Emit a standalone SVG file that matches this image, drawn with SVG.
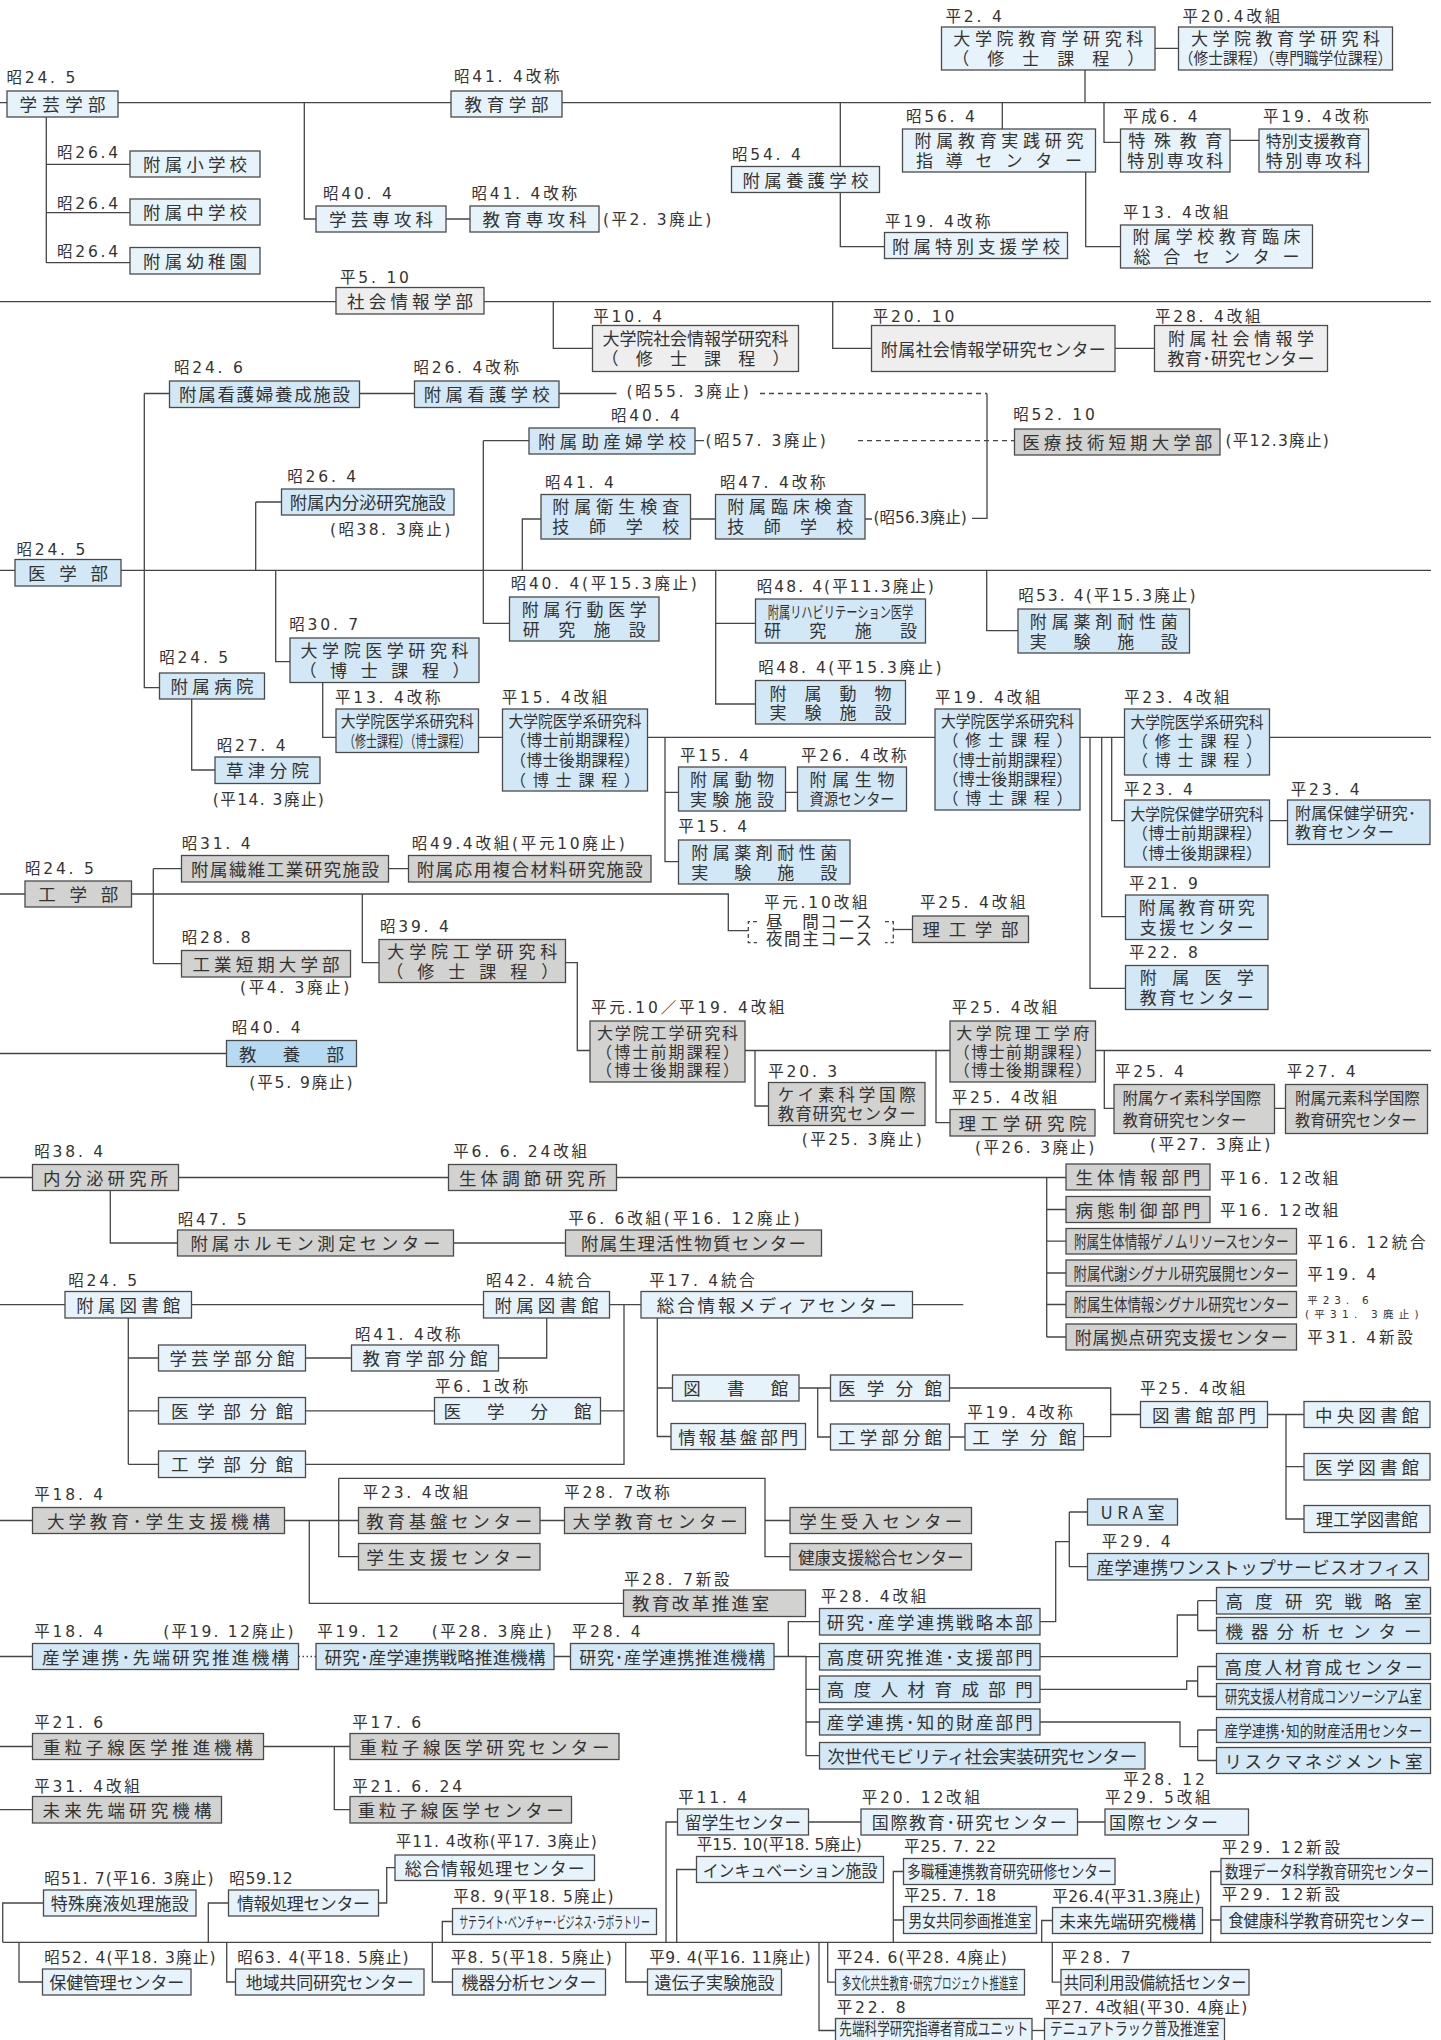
<svg xmlns="http://www.w3.org/2000/svg" width="1441" height="2040" viewBox="0 0 1441 2040">
<style>
.ln{fill:none;stroke:#454545;stroke-width:1.3}
.dsh{stroke-dasharray:5 4}
.dsh2{stroke-dasharray:4 3}
.dot{stroke-dasharray:1.5 2.5}
rect{stroke:#4a4a4a;stroke-width:1.3}
.b1{fill:#e7f3fb}
.b2{fill:#d2e8f6}
.b3{fill:#b5daf1}
.g1{fill:#d2d2d0}
.g2{fill:#eeeeee}
text{font-family:"Noto Sans CJK JP",sans-serif;fill:#333}
.t{font-size:17.5px;text-anchor:middle}
.l{text-anchor:start}
.f17{font-size:17px}
.f165{font-size:16.5px}
.f16{font-size:16px}
.f155{font-size:15.5px}
.lb{font-family:"DejaVu Sans","Noto Sans CJK JP",sans-serif;font-size:15.5px;letter-spacing:2.8px}
.lbs{font-family:"DejaVu Sans","Noto Sans CJK JP",sans-serif;font-size:10.5px;letter-spacing:1.5px}
</style>

<!-- connectors -->
<g id="connectors" class="ln">
<path d="M0 102.7H7M118 102.7H451M562 102.7H1431"/>
<path d="M46.3 117V262.7M46.3 164.3H130M46.3 212.7H130M46.3 262.7H130"/>
<path d="M304.3 102.7V219H316M446 219H470"/>
<path d="M840.3 102.7V166.5M840.3 192.5V246.7H884.5"/>
<path d="M1085 70V102.7M1155 48.3H1178.5M1002.3 102.7V129M1085.7 172V246.7H1120.5M1104 102.7V142.3H1120.5M1230 140.3H1259"/>
<path d="M0 301.7H336M484 301.7H1431M553.3 301.7V348.3H592.5M832.7 301.7V348.3H871.5M1115 348.3H1154.5"/>
<path d="M0 570.3H15M121 570.3H1431"/>
<path d="M144.3 393.5V687.7H159.5M144.3 393.5H169.5M359.5 393.5H414.5M559 393.5H616.5"/>
<path d="M972 518.3H987V393.5"/>
<path class="dsh" d="M760 393.5H987M858 440.7H1014.5"/>
<path d="M695 440.7H704M865 519H872"/>
<path d="M483.3 440.7H529M483.3 440.7V623.3H509.5"/>
<path d="M255.7 502H281.5M255.7 502V570.3"/>
<path d="M522.3 570.3V519H541M690.5 519H715.5"/>
<path d="M715.7 570.3V704H755.5M715.7 623.3H755.5"/>
<path d="M986.7 570.3V630.7H1018"/>
<path d="M191.7 699V770H215"/>
<path d="M275.7 570.3V661.7H290"/>
<path d="M322.7 682.5V737.3H336M478.5 737.3H502.5M647.5 737.3H935"/>
<path d="M665 737.3V861.7H678.5M665 792.3H678.5M785.5 792.3H797.5"/>
<path d="M1080 737.3H1124.5M1269.5 737.3H1431M1111.7 737.3V820.7H1124.5M1101.7 737.3V916.7H1125.5M1090 737.3V988.3H1125.5M1269.5 820.7H1287.5"/>
<path d="M0 894H25M131.5 894H728.3V930.7H748.3"/>
<path d="M153.3 868.7V963.7M153.3 868.7H181.5M153.3 963.7H181.5M388.5 868.7H408.5"/>
<path d="M362.3 894V962.7H379"/>
<path class="dsh2" d="M757 921.7H748.3V942.7H757M885 921.7H893.3V942.7H885"/>
<path d="M893.3 929.5H912.5"/>
<path d="M565.5 962.7H577.3V1050.5H590M745 1050.5H950M755 1050.5V1106H768.5M936 1050.5V1122.7H950"/>
<path d="M1095.5 1050.5H1431M1104.3 1050.5V1108.3H1114M1274.5 1108.3H1285.5"/>
<path d="M0 1053.5H226.5"/>
<path d="M0 1177.5H32.5M178.5 1177.5H448.5M616.5 1177.5H1066"/>
<path d="M1046.7 1177.5V1337M1046.7 1209.5H1066M1046.7 1241.2H1066M1046.7 1273H1066M1046.7 1304.5H1066M1046.7 1337H1066"/>
<path d="M110.3 1190.5V1243H177.5M453.5 1243H565.5"/>
<path d="M0 1304.7H65M191.5 1304.7H483.5M609.5 1304.7H641M912.5 1304.7H963.3"/>
<path d="M128.3 1318V1464.3M128.3 1358H158.5M128.3 1410.8H158.5M128.3 1464.3H158.5"/>
<path d="M305.5 1358H351.5M546.7 1318V1358H498.5"/>
<path d="M305.5 1410.8H434.5M600.5 1410.8H624M624 1304.7V1464.3H305.5"/>
<path d="M657.3 1318V1436.5H671M657.3 1388H672.5"/>
<path d="M799 1388H830.5M817.7 1388V1437H830.5"/>
<path d="M949.5 1388H1110.7V1436.7H1083.5M949.5 1437H965M1110.7 1414.5H1140.5"/>
<path d="M1267.5 1414.5H1304M1286 1414.5V1519H1304M1286 1466.7H1304"/>
<path d="M0 1520.5H32.5M284.5 1520.5H358.5M540 1520.5H564.5"/>
<path d="M338.7 1478.3V1556.7H358.5M338.7 1478.3H765V1556.7H790M765 1520.5H790"/>
<path d="M309.3 1520.5V1603.3H623.5"/>
<path d="M0 1656.5H32.5M554 1656.5H570.5M774 1656.5H806M788.3 1656.5V1621.7H819.5M806 1656.5V1755.7"/>
<path d="M806 1656.7H819.5M806 1689.3H819.5M806 1722H819.5M806 1755.7H819.5"/>
<path class="dot" d="M298.5 1656.5H316"/>
<path d="M1040 1621.7H1055.7V1541.7H1069.3M1069.3 1512V1566.7M1069.3 1512H1087.5M1069.3 1566.7H1087.5"/>
<path d="M1040 1656.7H1177.3V1615H1197.7M1197.7 1600.7V1630.5M1197.7 1600.7H1216.5M1197.7 1630.5H1216.5"/>
<path d="M1040 1689.3H1186.7V1681H1197.7M1197.7 1666.5V1696.5M1197.7 1666.5H1216.5M1197.7 1696.5H1216.5"/>
<path d="M1040 1722H1180V1746.7H1197.7M1197.7 1730V1760.5M1197.7 1730H1216.5M1197.7 1760.5H1216.5"/>
<path d="M0 1746.5H32.5M263.5 1746.5H350M334.3 1746.5V1809.7H350M0 1809.7H32.5"/>
<path d="M2.7 1942.3H1431"/>
<path d="M2.7 1942.3V1903H43.5M19 1942.3V1982H42.5"/>
<path d="M208.3 1942.3V1903H228.5M378.5 1903H386.7V1867.7H395"/>
<path d="M226.7 1942.3V1982H235.5"/>
<path d="M442.3 1942.3V1921.5H452.5M432.3 1942.3V1982H452.5"/>
<path d="M625.7 1942.3V1982H647.5"/>
<path d="M666 1942.3V1822H677.5M808.5 1822H861M1077.5 1822H1105"/>
<path d="M676.7 1942.3V1869.5H696.5"/>
<path d="M893.3 1942.3V1871.5H903.5M893.3 1920H903.5"/>
<path d="M1041.7 1942.3V1920.5H1052.5"/>
<path d="M1210.7 1942.3V1871.5H1221M1210.7 1920H1221"/>
<path d="M819 1942.3V2030.5H835.5M827.7 1942.3V1982.2H835.5"/>
<path d="M1032 2030.5H1044.5"/>
<path d="M1052.3 1942.3V1982.2H1061"/>
</g>

<!-- 学芸学部・教育学部 -->
<g id="gakugei-gakubu"><text class="lb" x="6.5" y="83">昭24. 5</text><rect class="b1" x="7" y="91" width="111" height="26"/><text class="t" x="62.5" y="111.1" textLength="86">学芸学部</text></g>
<g id="fuzoku-shogakko"><text class="lb" x="57" y="158.3">昭26.4</text><rect class="b1" x="130" y="151" width="130" height="26"/><text class="t" x="195" y="171.1" textLength="104">附属小学校</text></g>
<g id="fuzoku-chugakko"><text class="lb" x="57" y="209.3">昭26.4</text><rect class="b1" x="130" y="199" width="130" height="26"/><text class="t" x="195" y="219.1" textLength="104">附属中学校</text></g>
<g id="fuzoku-yochien"><text class="lb" x="57" y="256.7">昭26.4</text><rect class="b1" x="130" y="247.5" width="130" height="26.5"/><text class="t" x="195" y="267.9" textLength="104">附属幼稚園</text></g>
<g id="gakugei-senkoka"><text class="lb" x="323" y="199.3">昭40. 4</text><rect class="b1" x="316" y="206" width="130" height="26"/><text class="t" x="381" y="226.1" textLength="104">学芸専攻科</text></g>
<g id="kyoiku-senkoka"><text class="lb" x="471.5" y="199.3">昭41. 4改称</text><rect class="b1" x="470" y="206" width="129" height="26"/><text class="t" x="534.5" y="226.1" textLength="104">教育専攻科</text><text class="lb" x="603" y="225" textLength="111">(平2. 3廃止)</text></g>
<g id="kyoiku-gakubu"><text class="lb" x="454" y="82">昭41. 4改称</text><rect class="b1" x="451" y="91" width="111" height="26"/><text class="t" x="506.5" y="111.1" textLength="84">教育学部</text></g>
<g id="fuzoku-yogo"><text class="lb" x="732" y="160">昭54. 4</text><rect class="b1" x="731.5" y="166.5" width="148" height="26"/><text class="t" x="805.5" y="186.6" textLength="126">附属養護学校</text></g>
<g id="fuzoku-tokubetsu-shien"><text class="lb" x="885" y="226.5">平19. 4改称</text><rect class="b1" x="884.5" y="232.5" width="183" height="26"/><text class="t" x="976" y="252.6" textLength="168">附属特別支援学校</text></g>
<g id="kyoiku-kenkyuka"><text class="lb" x="945.5" y="21.5">平2. 4</text><rect class="b1" x="941.5" y="27" width="213.5" height="43"/><text class="t f17" x="1048.3" y="45" textLength="190">大学院教育学研究科</text><text class="t f17" x="1048.3" y="65" textLength="192">（修士課程）</text></g>
<g id="kyoiku-kenkyuka-2"><text class="lb" x="1182.5" y="21.5">平20.4改組</text><rect class="b1" x="1178.5" y="27" width="214" height="43"/><text class="t f17" x="1285.5" y="45" textLength="189">大学院教育学研究科</text><text class="t f16" transform="matrix(0.92 0 0 1 1285.5 64)">（修士課程）（専門職学位課程）</text></g>
<g id="kyoiku-jissen"><text class="lb" x="906" y="121.5">昭56. 4</text><rect class="b1" x="902.5" y="129" width="193" height="43"/><text class="t f17" x="999" y="147" textLength="169">附属教育実践研究</text><text class="t f17" x="999" y="167" textLength="166">指導センター</text></g>
<g id="tokushu-kyoiku"><text class="lb" x="1123" y="121.5">平成6. 4</text><rect class="b1" x="1120.5" y="129" width="109.5" height="43"/><text class="t f17" x="1175.3" y="147" textLength="94">特殊教育</text><text class="t f17" x="1175.3" y="167" textLength="96">特別専攻科</text></g>
<g id="tokubetsu-shien-kyoiku"><text class="lb" x="1263" y="121.5">平19. 4改称</text><rect class="b1" x="1259" y="129" width="109.5" height="43"/><text class="t f16" x="1313.8" y="146.7" textLength="96">特別支援教育</text><text class="t f17" x="1313.8" y="167" textLength="96">特別専攻科</text></g>
<g id="gakko-kyoiku-rinsho"><text class="lb" x="1123" y="218.3">平13. 4改組</text><rect class="b1" x="1120.5" y="225" width="192" height="43"/><text class="t f17" x="1216.5" y="243" textLength="168">附属学校教育臨床</text><text class="t f17" x="1216.5" y="263" textLength="166">総合センター</text></g>

<!-- 社会情報学部 -->
<g id="shakai-joho"><text class="lb" x="340" y="282.7">平5. 10</text><rect class="g2" x="336" y="287.5" width="148" height="26.5"/><text class="t" x="410" y="307.9" textLength="126">社会情報学部</text></g>
<g id="shakai-joho-kenkyuka"><text class="lb" x="593.3" y="321.7">平10. 4</text><rect class="g2" x="592.5" y="325.5" width="206" height="46"/><text class="t f17" x="695.5" y="345" textLength="186">大学院社会情報学研究科</text><text class="t f17" x="695.5" y="365" textLength="188">（修士課程）</text></g>
<g id="shakai-joho-center"><text class="lb" x="872.7" y="321.7">平20. 10</text><rect class="g2" x="871.5" y="325.5" width="243.5" height="46"/><text class="t f17" x="993.3" y="355.5" textLength="225">附属社会情報学研究センター</text></g>
<g id="shakai-joho-kyoiku-center"><text class="lb" x="1155" y="321.7">平28. 4改組</text><rect class="g2" x="1154.5" y="325.5" width="173" height="46"/><text class="t f17" x="1241" y="345" textLength="146">附属社会情報学</text><text class="t f17" x="1241" y="365" textLength="147">教育･研究センター</text></g>

<!-- 医学部 -->
<g id="igakubu"><text class="lb" x="16.5" y="555">昭24. 5</text><rect class="b2" x="15" y="559.5" width="106" height="26.5"/><text class="t" x="68" y="579.9" textLength="80">医学部</text></g>
<g id="kangofu-yosei"><text class="lb" x="174" y="372.7">昭24. 6</text><rect class="b2" x="169.5" y="381" width="190" height="26.5"/><text class="t" x="264.5" y="401.4" textLength="171">附属看護婦養成施設</text></g>
<g id="kango-gakko"><text class="lb" x="413.5" y="372.7">昭26. 4改称</text><rect class="b2" x="414.5" y="381" width="144.5" height="26.5"/><text class="t" x="486.8" y="401.4" textLength="126">附属看護学校</text><text class="lb" x="626.5" y="397.3" textLength="125">(昭55. 3廃止)</text></g>
<g id="josanpu-gakko"><text class="lb" x="611" y="420.7">昭40. 4</text><rect class="b2" x="529" y="428" width="166" height="26"/><text class="t" x="612" y="448.1" textLength="148">附属助産婦学校</text><text class="lb" x="705.5" y="445.5" textLength="123">(昭57. 3廃止)</text></g>
<g id="eisei-kensa"><text class="lb" x="545" y="488.3">昭41. 4</text><rect class="b2" x="541" y="494.5" width="149.5" height="44.5"/><text class="t f17" x="615.8" y="513.2" textLength="127">附属衛生検査</text><text class="t f17" x="615.8" y="533.2" textLength="127">技師学校</text></g>
<g id="rinsho-kensa"><text class="lb" x="720" y="488.3">昭47. 4改称</text><rect class="b2" x="715.5" y="494.5" width="149.5" height="44.5"/><text class="t f17" x="790.3" y="513.2" textLength="126">附属臨床検査</text><text class="t f17" x="790.3" y="533.2" textLength="126">技師学校</text><text class="lb" x="873.5" y="523.3" textLength="96">(昭56.3廃止)</text></g>
<g id="naibunpi-shisetsu"><text class="lb" x="287.3" y="481.7">昭26. 4</text><rect class="b2" x="281.5" y="489" width="172.5" height="26"/><text class="t" x="367.8" y="509.1" textLength="156">附属内分泌研究施設</text><text class="lb" x="330" y="535" textLength="123">(昭38. 3廃止)</text></g>
<g id="iryo-gijutsu-tanki"><text class="lb" x="1013.3" y="420">昭52. 10</text><rect class="g1" x="1014.5" y="429" width="205.5" height="26"/><text class="t" x="1117.3" y="449.1" textLength="190">医療技術短期大学部</text><text class="lb" x="1225.5" y="445.5" textLength="106">(平12.3廃止)</text></g>
<g id="kodo-igaku"><text class="lb" x="510.7" y="589" textLength="189">昭40. 4(平15.3廃止)</text><rect class="b2" x="509.5" y="597" width="149.5" height="44"/><text class="t f17" x="584.3" y="615.5" textLength="125">附属行動医学</text><text class="t f17" x="584.3" y="635.5" textLength="123">研究施設</text></g>
<g id="rehabilitation"><text class="lb" x="756.7" y="592.3" textLength="180">昭48. 4(平11.3廃止)</text><rect class="b2" x="755.5" y="599" width="170" height="44"/><text class="t f155" transform="matrix(0.7246 0 0 1 840.5 617.9)">附属リハビリテーション医学</text><text class="t f17" x="840.5" y="637.3" textLength="153">研究施設</text></g>
<g id="dobutsu-jikken-1"><text class="lb" x="758.3" y="672.7" textLength="186">昭48. 4(平15.3廃止)</text><rect class="b2" x="755.5" y="680.5" width="150" height="43.5"/><text class="t f17" x="830.5" y="699.7" textLength="122">附属動物</text><text class="t f17" x="830.5" y="719" textLength="122">実験施設</text></g>
<g id="yakuzai-taisei-1"><text class="lb" x="1018.3" y="600.7" textLength="180">昭53. 4(平15.3廃止)</text><rect class="b2" x="1018" y="609" width="171.5" height="44"/><text class="t f17" x="1103.8" y="628" textLength="148">附属薬剤耐性菌</text><text class="t f17" x="1103.8" y="647.5" textLength="148">実験施設</text></g>
<g id="fuzoku-byoin"><text class="lb" x="159.3" y="663.3">昭24. 5</text><rect class="b2" x="159.5" y="673" width="105" height="26"/><text class="t" x="212" y="693.1" textLength="83">附属病院</text></g>
<g id="kusatsu-bunin"><text class="lb" x="216.7" y="750.7">昭27. 4</text><rect class="b2" x="215" y="757" width="105" height="26.5"/><text class="t" x="267.5" y="777.4" textLength="83">草津分院</text><text class="lb" x="212.7" y="805" textLength="114">(平14. 3廃止)</text></g>
<g id="igaku-kenkyuka"><text class="lb" x="289.3" y="630">昭30. 7</text><rect class="b2" x="290" y="638" width="189" height="44.5"/><text class="t f17" x="384.5" y="656.7" textLength="168">大学院医学研究科</text><text class="t f17" x="384.5" y="676.7" textLength="170">（博士課程）</text></g>
<g id="igakukei-kenkyuka-h13"><text class="lb" x="335" y="702.7">平13. 4改称</text><rect class="b2" x="336" y="709" width="142.5" height="43.5"/><text class="t f16" transform="matrix(0.9236 0 0 1 407.3 726.9)">大学院医学系研究科</text><text class="t f16" transform="matrix(0.6875 0 0 1 407.3 746.6)">（修士課程）（博士課程）</text></g>
<g id="igakukei-kenkyuka-h15"><text class="lb" x="501.7" y="702.7">平15. 4改組</text><rect class="b2" x="502.5" y="709" width="145" height="82"/><text class="t f16" transform="matrix(0.9236 0 0 1 575 726.6)">大学院医学系研究科</text><text class="t f16" x="575" y="746.3" textLength="130">（博士前期課程）</text><text class="t f16" x="575" y="765.9" textLength="130">（博士後期課程）</text><text class="t f16" x="575" y="785.6" textLength="130">（博士課程）</text></g>
<g id="dobutsu-jikken-2"><text class="lb" x="680" y="760.7">平15. 4</text><rect class="b2" x="678.5" y="767" width="107" height="44"/><text class="t f17" x="732" y="785.5" textLength="84">附属動物</text><text class="t f17" x="732" y="805.5" textLength="84">実験施設</text></g>
<g id="seibutsu-shigen"><text class="lb" x="801" y="760.7">平26. 4改称</text><rect class="b2" x="797.5" y="767" width="109" height="44"/><text class="t f17" x="852" y="785.5" textLength="85">附属生物</text><text class="t f16" transform="matrix(0.885 0 0 1 852 805.1)">資源センター</text></g>
<g id="yakuzai-taisei-2"><text class="lb" x="678.3" y="831.7">平15. 4</text><rect class="b2" x="678.5" y="840" width="171.5" height="44"/><text class="t f17" x="764.3" y="858.5" textLength="146">附属薬剤耐性菌</text><text class="t f17" x="764.3" y="878.5" textLength="146">実験施設</text></g>
<g id="igakukei-kenkyuka-h19"><text class="lb" x="935" y="702.7">平19. 4改組</text><rect class="b2" x="935" y="709" width="145" height="101"/><text class="t f16" transform="matrix(0.9236 0 0 1 1007.5 726.8)">大学院医学系研究科</text><text class="t f16" x="1007.5" y="746.2" textLength="130">（修士課程）</text><text class="t f16" x="1007.5" y="765.6" textLength="130">（博士前期課程）</text><text class="t f16" x="1007.5" y="785" textLength="130">（博士後期課程）</text><text class="t f16" x="1007.5" y="804.4" textLength="130">（博士課程）</text></g>
<g id="igakukei-kenkyuka-h23"><text class="lb" x="1124" y="702.7">平23. 4改組</text><rect class="b2" x="1124.5" y="709" width="145" height="66"/><text class="t f16" transform="matrix(0.9236 0 0 1 1197 727.8)">大学院医学系研究科</text><text class="t f16" x="1197" y="747.1" textLength="130">（修士課程）</text><text class="t f16" x="1197" y="766.4" textLength="130">（博士課程）</text></g>
<g id="hokengaku-kenkyuka"><text class="lb" x="1124" y="795">平23. 4</text><rect class="b2" x="1124.5" y="800" width="145" height="67"/><text class="t f16" transform="matrix(0.9236 0 0 1 1197 820.3)">大学院保健学研究科</text><text class="t f16" x="1197" y="839.4" textLength="130">（博士前期課程）</text><text class="t f16" x="1197" y="858.6" textLength="130">（博士後期課程）</text></g>
<g id="hokengaku-center"><text class="lb" x="1290.7" y="795">平23. 4</text><rect class="b2" x="1287.5" y="800" width="142.5" height="44.5"/><text class="t f16 l" x="1295" y="819.1" textLength="121">附属保健学研究･</text><text class="t f16 l" x="1295" y="837.6" textLength="99">教育センター</text></g>
<g id="kyoiku-kenkyu-shien"><text class="lb" x="1129" y="889.3">平21. 9</text><rect class="b2" x="1125.5" y="895" width="142.5" height="44.5"/><text class="t f17" x="1196.8" y="913.7" textLength="116">附属教育研究</text><text class="t f17" x="1196.8" y="933.7" textLength="114">支援センター</text></g>
<g id="igaku-kyoiku-center"><text class="lb" x="1129" y="958.3">平22. 8</text><rect class="b2" x="1125.5" y="965.5" width="142.5" height="44"/><text class="t f17" x="1196.8" y="984" textLength="114">附属医学</text><text class="t f17" x="1196.8" y="1004" textLength="114">教育センター</text></g>

<!-- 工学部 -->
<g id="kogakubu"><text class="lb" x="25" y="874.3">昭24. 5</text><rect class="g1" x="25" y="881" width="106.5" height="26"/><text class="t" x="78.3" y="901.1" textLength="80">工学部</text></g>
<g id="seni-kogyo"><text class="lb" x="181.7" y="849.3">昭31. 4</text><rect class="g1" x="181.5" y="855.5" width="207" height="26.5"/><text class="t" x="285" y="875.9" textLength="188">附属繊維工業研究施設</text></g>
<g id="oyo-fukugo"><text class="lb" x="411.7" y="849.3" textLength="216">昭49.4改組(平元10廃止)</text><rect class="g1" x="408.5" y="855.5" width="242.5" height="26.5"/><text class="t" x="529.8" y="875.9" textLength="226">附属応用複合材料研究施設</text></g>
<g id="kogyo-tanki"><text class="lb" x="181.7" y="943.3">昭28. 8</text><rect class="g1" x="181.5" y="950.5" width="169" height="26.5"/><text class="t" x="266" y="970.9" textLength="147">工業短期大学部</text><text class="lb" x="240" y="993.3" textLength="112">(平4. 3廃止)</text></g>
<g id="kogaku-kenkyuka-m"><text class="lb" x="380" y="931.7">昭39. 4</text><rect class="g1" x="379" y="939.5" width="186.5" height="43"/><text class="t f17" x="472.3" y="957.5" textLength="170">大学院工学研究科</text><text class="t f17" x="472.3" y="977.5" textLength="172">（修士課程）</text></g>
<g id="chukan-yakan"><text class="lb" x="764" y="908.3">平元.10改組</text><text class="t f165 l" x="766" y="928" textLength="106">昼　間コース</text><text class="t f165 l" x="766" y="945.3" textLength="106">夜間主コース</text></g>
<g id="rikogakubu"><text class="lb" x="920" y="908.3">平25. 4改組</text><rect class="g1" x="912.5" y="916" width="116" height="26.5"/><text class="t" x="970.5" y="936.4" textLength="96">理工学部</text></g>
<g id="kogaku-kenkyuka-d"><text class="lb" x="591" y="1013.3">平元.10／平19. 4改組</text><rect class="g1" x="590" y="1021" width="155" height="61"/><text class="t f16" x="667.5" y="1039.4" textLength="141">大学院工学研究科</text><text class="t f16" x="667.5" y="1057.8" textLength="143">（博士前期課程）</text><text class="t f16" x="667.5" y="1076.2" textLength="143">（博士後期課程）</text></g>
<g id="rikogakufu"><text class="lb" x="951.7" y="1013.3">平25. 4改組</text><rect class="g1" x="950" y="1021" width="145.5" height="61"/><text class="t f16" x="1022.8" y="1039.4" textLength="133">大学院理工学府</text><text class="t f16" x="1022.8" y="1057.8" textLength="138">（博士前期課程）</text><text class="t f16" x="1022.8" y="1076.2" textLength="138">（博士後期課程）</text></g>
<g id="keiso-center"><text class="lb" x="768.3" y="1076.7">平20. 3</text><rect class="g1" x="768.5" y="1082.5" width="156.5" height="43"/><text class="t f165" x="846.8" y="1100.8" textLength="138">ケイ素科学国際</text><text class="t f165" x="846.8" y="1120.3" textLength="138">教育研究センター</text><text class="lb" x="801.7" y="1145" textLength="123">(平25. 3廃止)</text></g>
<g id="riko-kenkyuin"><text class="lb" x="951.7" y="1103.3">平25. 4改組</text><rect class="g1" x="950" y="1109.5" width="145" height="26.5"/><text class="t" x="1022.5" y="1129.9" textLength="128">理工学研究院</text><text class="lb" x="975" y="1153.3" textLength="122">(平26. 3廃止)</text></g>
<g id="fuzoku-keiso-center"><text class="lb" x="1115" y="1077.3">平25. 4</text><rect class="g1" x="1114" y="1084.5" width="160.5" height="49"/><text class="t f16 l" transform="matrix(0.965 0 0 1 1122.5 1104.3)">附属ケイ素科学国際</text><text class="t f16 l" transform="matrix(0.969 0 0 1 1122.5 1125.9)">教育研究センター</text><text class="lb" x="1150" y="1150" textLength="123">(平27. 3廃止)</text></g>
<g id="genso-center"><text class="lb" x="1286.7" y="1077.3">平27. 4</text><rect class="g1" x="1285.5" y="1084.5" width="142" height="49"/><text class="t f16 l" transform="matrix(0.977 0 0 1 1295 1104.3)">附属元素科学国際</text><text class="t f16 l" transform="matrix(0.953 0 0 1 1295 1125.9)">教育研究センター</text></g>

<!-- 教養部 -->
<g id="kyoyobu"><text class="lb" x="231.7" y="1033.3">昭40. 4</text><rect class="b3" x="226.5" y="1040.5" width="130" height="26"/><text class="t" x="291.5" y="1060.6" textLength="105">教養部</text><text class="lb" x="249.3" y="1088.3" textLength="106">(平5. 9廃止)</text></g>

<!-- 内分泌研究所・生体調節研究所 -->
<g id="naibunpi-kenkyujo"><text class="lb" x="34.3" y="1156.7">昭38. 4</text><rect class="g1" x="32.5" y="1164.5" width="146" height="26"/><text class="t" x="105.5" y="1184.6" textLength="125">内分泌研究所</text></g>
<g id="seitai-chosetsu"><text class="lb" x="453.3" y="1156.7">平6. 6. 24改組</text><rect class="g1" x="448.5" y="1164.5" width="168" height="26"/><text class="t" x="532.5" y="1184.6" textLength="147">生体調節研究所</text></g>
<g id="hormone-center"><text class="lb" x="177.7" y="1225">昭47. 5</text><rect class="g1" x="177.5" y="1230" width="276" height="26"/><text class="t" x="315.5" y="1250.1" textLength="250">附属ホルモン測定センター</text></g>
<g id="seiri-kassei"><text class="lb" x="568.3" y="1224" textLength="234">平6. 6改組(平16. 12廃止)</text><rect class="g1" x="565.5" y="1230" width="256" height="26"/><text class="t" x="693.5" y="1250.1" textLength="225">附属生理活性物質センター</text></g>
<g id="seitai-joho-bumon"><rect class="g1" x="1066" y="1164" width="144" height="26"/><text class="t" x="1138" y="1184.1" textLength="125">生体情報部門</text><text class="lb" x="1220" y="1184">平16. 12改組</text></g>
<g id="byotai-seigyo"><rect class="g1" x="1066" y="1196.5" width="144" height="26"/><text class="t" x="1138" y="1216.6" textLength="125">病態制御部門</text><text class="lb" x="1220" y="1216">平16. 12改組</text></g>
<g id="genome-resource"><rect class="g1" x="1066" y="1228.5" width="230.5" height="25.5"/><text class="t f17" transform="matrix(0.747 0 0 1 1181.3 1248)">附属生体情報ゲノムリソースセンター</text><text class="lb" x="1307.3" y="1248.3">平16. 12統合</text></g>
<g id="taisha-signal"><rect class="g1" x="1066" y="1260" width="230.5" height="26"/><text class="t f17" transform="matrix(0.794 0 0 1 1181.3 1279.5)">附属代謝シグナル研究展開センター</text><text class="lb" x="1307.3" y="1280">平19. 4</text></g>
<g id="seitai-signal"><rect class="g1" x="1066" y="1291.5" width="230.5" height="26"/><text class="t f17" transform="matrix(0.794 0 0 1 1181.3 1311)">附属生体情報シグナル研究センター</text><text class="lbs" x="1307.3" y="1304.3" textLength="63">平23. 6</text><text class="lbs" x="1305" y="1317.7" textLength="115">(平31. 3廃止)</text></g>
<g id="kyoten-shien"><rect class="g1" x="1066" y="1324" width="230.5" height="26"/><text class="t f17" x="1181.3" y="1344" textLength="213">附属拠点研究支援センター</text><text class="lb" x="1307.3" y="1343.3">平31. 4新設</text></g>

<!-- 附属図書館 -->
<g id="fuzoku-toshokan"><text class="lb" x="68.3" y="1286">昭24. 5</text><rect class="b1" x="65" y="1291.5" width="126.5" height="26.5"/><text class="t" x="128.3" y="1311.9" textLength="104">附属図書館</text></g>
<g id="fuzoku-toshokan-2"><text class="lb" x="486" y="1286">昭42. 4統合</text><rect class="b1" x="483.5" y="1291.5" width="126" height="26.5"/><text class="t" x="546.5" y="1311.9" textLength="104">附属図書館</text></g>
<g id="gakugei-bunkan"><rect class="b1" x="158.5" y="1345" width="147" height="26"/><text class="t" x="232" y="1365.1" textLength="125">学芸学部分館</text></g>
<g id="igakubu-bunkan"><rect class="b1" x="158.5" y="1397.5" width="147" height="26.5"/><text class="t" x="232" y="1417.9" textLength="122">医学部分館</text></g>
<g id="kogakubu-bunkan"><rect class="b1" x="158.5" y="1451" width="147" height="26.5"/><text class="t" x="232" y="1471.4" textLength="122">工学部分館</text></g>
<g id="kyoikugakubu-bunkan"><text class="lb" x="355" y="1340">昭41. 4改称</text><rect class="b1" x="351.5" y="1345" width="147" height="26"/><text class="t" x="425" y="1365.1" textLength="125">教育学部分館</text></g>
<g id="igaku-bunkan"><text class="lb" x="435" y="1392.3">平6. 1改称</text><rect class="b1" x="434.5" y="1397.5" width="166" height="26.5"/><text class="t" x="517.5" y="1417.9" textLength="148">医学分館</text></g>
<g id="sogo-joho-media"><text class="lb" x="649.3" y="1286">平17. 4統合</text><rect class="b1" x="641" y="1291.5" width="271.5" height="26.5"/><text class="t" x="776.8" y="1311.9" textLength="240">総合情報メディアセンター</text></g>
<g id="toshokan"><rect class="b1" x="672.5" y="1375" width="126.5" height="26"/><text class="t" x="735.8" y="1395.1" textLength="105">図書館</text></g>
<g id="joho-kiban"><rect class="b1" x="671" y="1423.5" width="134.5" height="26"/><text class="t" x="738.3" y="1443.6" textLength="120">情報基盤部門</text></g>
<g id="igaku-bunkan-2"><rect class="b1" x="830.5" y="1375" width="119" height="26"/><text class="t" x="890" y="1395.1" textLength="104">医学分館</text></g>
<g id="kogakubu-bunkan-2"><rect class="b1" x="830.5" y="1424" width="119" height="26"/><text class="t" x="890" y="1444.1" textLength="104">工学部分館</text></g>
<g id="kogaku-bunkan"><text class="lb" x="967.3" y="1418.3">平19. 4改称</text><rect class="b1" x="965" y="1423.5" width="118.5" height="26.5"/><text class="t" x="1024.3" y="1443.9" textLength="104">工学分館</text></g>
<g id="toshokan-bumon"><text class="lb" x="1140" y="1394">平25. 4改組</text><rect class="b1" x="1140.5" y="1401.5" width="127" height="26"/><text class="t" x="1204" y="1421.6" textLength="104">図書館部門</text></g>
<g id="chuo-toshokan"><rect class="b1" x="1304" y="1401.5" width="126" height="26"/><text class="t" x="1367" y="1421.6" textLength="104">中央図書館</text></g>
<g id="igaku-toshokan"><rect class="b1" x="1304" y="1453.5" width="126" height="26.5"/><text class="t" x="1367" y="1473.9" textLength="104">医学図書館</text></g>
<g id="riko-toshokan"><rect class="b1" x="1304" y="1505.5" width="126" height="27"/><text class="t f17" x="1367" y="1526.1" textLength="102">理工学図書館</text></g>

<!-- 大学教育・学生支援機構 -->
<g id="daigaku-kyoiku-kiko"><text class="lb" x="34.3" y="1500">平18. 4</text><rect class="g1" x="32.5" y="1507.5" width="252" height="26"/><text class="t" x="158.5" y="1527.6" textLength="223">大学教育･学生支援機構</text></g>
<g id="kyoiku-kiban"><text class="lb" x="362.7" y="1497.7">平23. 4改組</text><rect class="g1" x="358.5" y="1507.5" width="181.5" height="26"/><text class="t" x="449.3" y="1527.6" textLength="166">教育基盤センター</text></g>
<g id="daigaku-kyoiku-center"><text class="lb" x="564.3" y="1497.7">平28. 7改称</text><rect class="g1" x="564.5" y="1507.5" width="181" height="26"/><text class="t" x="655" y="1527.6" textLength="165">大学教育センター</text></g>
<g id="gakusei-shien"><rect class="g1" x="358.5" y="1543.5" width="181.5" height="26.5"/><text class="t" x="449.3" y="1563.9" textLength="166">学生支援センター</text></g>
<g id="gakusei-ukeire"><rect class="g1" x="790" y="1507.5" width="181.5" height="26"/><text class="t" x="880.8" y="1527.6" textLength="163">学生受入センター</text></g>
<g id="kenko-shien"><rect class="g1" x="790" y="1543.5" width="181.5" height="26.5"/><text class="t f17" transform="matrix(0.976 0 0 1 880.8 1563.8)">健康支援総合センター</text></g>
<g id="kyoiku-kaikaku"><text class="lb" x="624" y="1585">平28. 7新設</text><rect class="g1" x="623.5" y="1590" width="182" height="26.5"/><text class="t l" x="632" y="1610.4" textLength="137">教育改革推進室</text></g>

<!-- 産学連携 -->
<g id="sangaku-sentan"><text class="lb" x="34.3" y="1637.3">平18. 4</text><text class="lb" x="163.3" y="1637.3" textLength="133">(平19. 12廃止)</text><rect class="b2" x="32.5" y="1643.5" width="266" height="26"/><text class="t" x="165.5" y="1663.6" textLength="247">産学連携･先端研究推進機構</text></g>
<g id="kenkyu-sangaku-senryaku-kiko"><text class="lb" x="317.3" y="1637.3">平19. 12</text><text class="lb" x="431.7" y="1637.3" textLength="123">(平28. 3廃止)</text><rect class="b2" x="316" y="1643.5" width="238" height="26"/><text class="t" x="435" y="1663.6" textLength="221">研究･産学連携戦略推進機構</text></g>
<g id="kenkyu-sangaku-kiko"><text class="lb" x="571.7" y="1637.3">平28. 4</text><rect class="b2" x="570.5" y="1643.5" width="203.5" height="26"/><text class="t f17" x="672.3" y="1663.5" textLength="186">研究･産学連携推進機構</text></g>
<g id="senryaku-honbu"><text class="lb" x="820.7" y="1601.7">平28. 4改組</text><rect class="b2" x="819.5" y="1608.5" width="220.5" height="26.5"/><text class="t" x="929.8" y="1628.9" textLength="206">研究･産学連携戦略本部</text></g>
<g id="kodo-kenkyu-suishin"><rect class="b2" x="819.5" y="1643.5" width="220.5" height="26.5"/><text class="t" x="929.8" y="1663.9" textLength="206">高度研究推進･支援部門</text></g>
<g id="kodo-jinzai-bumon"><rect class="b2" x="819.5" y="1676" width="220.5" height="26.5"/><text class="t" x="929.8" y="1696.4" textLength="206">高度人材育成部門</text></g>
<g id="chiteki-zaisan-bumon"><rect class="b2" x="819.5" y="1709" width="220.5" height="26"/><text class="t" x="929.8" y="1729.1" textLength="206">産学連携･知的財産部門</text></g>
<g id="mobility"><rect class="b2" x="819.5" y="1742.5" width="325.5" height="26.5"/><text class="t" x="982.3" y="1762.9" textLength="310">次世代モビリティ社会実装研究センター</text></g>
<g id="ura"><rect class="b2" x="1087.5" y="1499" width="90" height="26"/><text class="t f17" x="1132.5" y="1519" textLength="64">URA室</text></g>
<g id="one-stop"><text class="lb" x="1101.7" y="1547.3">平29. 4</text><rect class="b2" x="1087.5" y="1553.5" width="341" height="26.5"/><text class="t" x="1258" y="1573.9" textLength="323">産学連携ワンストップサービスオフィス</text></g>
<g id="kodo-senryaku"><rect class="b2" x="1216.5" y="1587.5" width="214" height="26.5"/><text class="t" x="1323.5" y="1607.9" textLength="196">高度研究戦略室</text></g>
<g id="kiki-bunseki"><rect class="b2" x="1216.5" y="1617.5" width="214" height="26"/><text class="t" x="1323.5" y="1637.6" textLength="196">機器分析センター</text></g>
<g id="kodo-jinzai-center"><rect class="b2" x="1216.5" y="1653.5" width="214" height="26"/><text class="t" x="1323.5" y="1673.6" textLength="198">高度人材育成センター</text></g>
<g id="consortium"><rect class="b2" x="1216.5" y="1683.5" width="214" height="26"/><text class="t f165" transform="matrix(0.75 0 0 1 1323.5 1703.3)">研究支援人材育成コンソーシアム室</text></g>
<g id="chiteki-zaisan-center"><rect class="b2" x="1216.5" y="1717.5" width="214" height="25"/><text class="t f16" transform="matrix(0.853 0 0 1 1323.5 1736.6)">産学連携･知的財産活用センター</text></g>
<g id="risk"><rect class="b2" x="1216.5" y="1747.5" width="214" height="26"/><text class="t" x="1323.5" y="1767.6" textLength="198">リスクマネジメント室</text></g>

<!-- 重粒子線 -->
<g id="juryushi-kiko"><text class="lb" x="34.3" y="1728.3">平21. 6</text><rect class="g1" x="32.5" y="1733.5" width="231" height="26"/><text class="t" x="148" y="1753.6" textLength="210">重粒子線医学推進機構</text></g>
<g id="juryushi-kenkyu-center"><text class="lb" x="352.3" y="1728.3">平17. 6</text><rect class="g1" x="350" y="1733.5" width="269" height="26"/><text class="t" x="484.5" y="1753.6" textLength="250">重粒子線医学研究センター</text></g>
<g id="juryushi-center"><text class="lb" x="352.3" y="1791.7">平21. 6. 24</text><rect class="g1" x="350" y="1796.5" width="221.5" height="26.5"/><text class="t" x="460.8" y="1816.9" textLength="206">重粒子線医学センター</text></g>
<g id="mirai-sentan"><text class="lb" x="34.3" y="1791.7">平31. 4改組</text><rect class="g1" x="32.5" y="1796.5" width="189" height="26.5"/><text class="t" x="127" y="1816.9" textLength="169">未来先端研究機構</text></g>

<!-- 共同利用施設など -->
<g id="tokushu-haieki"><text class="lb" x="44.3" y="1884.3" textLength="172">昭51. 7(平16. 3廃止)</text><rect class="b1" x="43.5" y="1890" width="152.5" height="26"/><text class="t f17" x="119.8" y="1910" textLength="138">特殊廃液処理施設</text></g>
<g id="hoken-kanri"><text class="lb" x="44.3" y="1963.3" textLength="174">昭52. 4(平18. 3廃止)</text><rect class="b1" x="42.5" y="1969" width="148.5" height="26"/><text class="t f17" x="116.8" y="1989" textLength="135">保健管理センター</text></g>
<g id="joho-shori"><text class="lb" x="229.3" y="1884.3" textLength="66">昭59.12</text><rect class="b1" x="228.5" y="1890" width="150" height="26"/><text class="t f17" x="303.5" y="1910" textLength="133">情報処理センター</text></g>
<g id="sogo-joho-shori"><text class="lb" x="395.7" y="1846.7" textLength="204">平11. 4改称(平17. 3廃止)</text><rect class="b1" x="395" y="1855" width="199.5" height="25.5"/><text class="t f17" x="494.8" y="1874.8" textLength="180">総合情報処理センター</text></g>
<g id="chiiki-kyodo"><text class="lb" x="237.3" y="1963.3" textLength="174">昭63. 4(平18. 5廃止)</text><rect class="b1" x="235.5" y="1969" width="188.5" height="26"/><text class="t f17" x="329.8" y="1989" textLength="168">地域共同研究センター</text></g>
<g id="satellite-vbl"><text class="lb" x="453.3" y="1901.7" textLength="163">平8. 9(平18. 5廃止)</text><rect class="b1" x="452.5" y="1908.5" width="204" height="26"/><text class="t f16" transform="matrix(0.555 0 0 1 554.5 1928.1)">サテライト･ベンチャー･ビジネス･ラボラトリー</text></g>
<g id="kiki-bunseki-old"><text class="lb" x="450.7" y="1963.3" textLength="164">平8. 5(平18. 5廃止)</text><rect class="b1" x="452.5" y="1969" width="153" height="26"/><text class="t f17" x="529" y="1989" textLength="135">機器分析センター</text></g>
<g id="idenshi-jikken"><text class="lb" x="649.3" y="1963.3" textLength="164">平9. 4(平16. 11廃止)</text><rect class="b1" x="647.5" y="1969" width="134" height="26"/><text class="t f17" x="714.5" y="1989" textLength="120">遺伝子実験施設</text></g>
<g id="ryugakusei"><text class="lb" x="678.3" y="1802.7">平11. 4</text><rect class="b1" x="677.5" y="1809" width="131" height="26"/><text class="t f17" transform="matrix(0.975 0 0 1 743 1829)">留学生センター</text></g>
<g id="kokusai-kyoiku"><text class="lb" x="861.7" y="1802.7">平20. 12改組</text><rect class="b1" x="861" y="1809" width="216.5" height="26"/><text class="t f17" x="969.3" y="1829" textLength="195">国際教育･研究センター</text></g>
<g id="kokusai-center"><text class="lb" x="1123.3" y="1785">平28. 12</text><text class="lb" x="1105" y="1803.3">平29. 5改組</text><rect class="b1" x="1105" y="1809" width="143.5" height="26"/><text class="t f17 l" x="1109" y="1829" textLength="109">国際センター</text></g>
<g id="incubation"><text class="lb" x="696.7" y="1850" textLength="168">平15. 10(平18. 5廃止)</text><rect class="b1" x="696.5" y="1856.5" width="187" height="26"/><text class="t f17" transform="matrix(0.936 0 0 1 790 1876.5)">インキュベーション施設</text></g>
<g id="tashokushu"><text class="lb" x="904" y="1851.7" textLength="95">平25. 7. 22</text><rect class="b1" x="903.5" y="1858.5" width="211.5" height="26"/><text class="t f165" transform="matrix(0.828 0 0 1 1009.3 1878.3)">多職種連携教育研究研修センター</text></g>
<g id="danjo-kyodo"><text class="lb" x="904" y="1900.7" textLength="95">平25. 7. 18</text><rect class="b1" x="903.5" y="1906.5" width="133" height="27"/><text class="t f165" transform="matrix(0.828 0 0 1 970 1926.8)">男女共同参画推進室</text></g>
<g id="mirai-sentan-2"><text class="lb" x="1052.3" y="1901.7" textLength="151">平26.4(平31.3廃止)</text><rect class="b1" x="1052.5" y="1907.5" width="150" height="26"/><text class="t f17" x="1127.5" y="1927.5" textLength="137">未来先端研究機構</text></g>
<g id="suri-data"><text class="lb" x="1221.7" y="1853.3">平29. 12新設</text><rect class="b1" x="1221" y="1858.5" width="211.5" height="26"/><text class="t f165" transform="matrix(0.824 0 0 1 1326.8 1878.3)">数理データ科学教育研究センター</text></g>
<g id="shoku-kenko"><text class="lb" x="1221.7" y="1900">平29. 12新設</text><rect class="b1" x="1221" y="1906.5" width="211.5" height="27"/><text class="t f17" transform="matrix(0.891 0 0 1 1326.8 1926.5)">食健康科学教育研究センター</text></g>
<g id="tabunka-kyosei"><text class="lb" x="836.7" y="1963.3" textLength="173">平24. 6(平28. 4廃止)</text><rect class="b1" x="835.5" y="1969.5" width="189" height="25.5"/><text class="t f16" transform="matrix(0.595 0 0 1 930 1988.9)">多文化共生教育･研究プロジェクト推進室</text></g>
<g id="sentan-shidosha"><text class="lb" x="836.7" y="2012.7">平22. 8</text><rect class="b1" x="835.5" y="2018.5" width="196.5" height="24"/><text class="t f17" transform="matrix(0.741 0 0 1 933.8 2034.8)">先端科学研究指導者育成ユニット</text></g>
<g id="tenure-track"><text class="lb" x="1045" y="2012.7" textLength="205">平27. 4改組(平30. 4廃止)</text><rect class="b1" x="1044.5" y="2018.5" width="180" height="24"/><text class="t f17" transform="matrix(0.769 0 0 1 1134.5 2034.8)">テニュアトラック普及推進室</text></g>
<g id="kyodo-riyo"><text class="lb" x="1061.7" y="1963.3">平28. 7</text><rect class="b1" x="1061" y="1969.5" width="188" height="25.5"/><text class="t f17" transform="matrix(0.897 0 0 1 1155 1988.9)">共同利用設備統括センター</text></g>
</svg>
